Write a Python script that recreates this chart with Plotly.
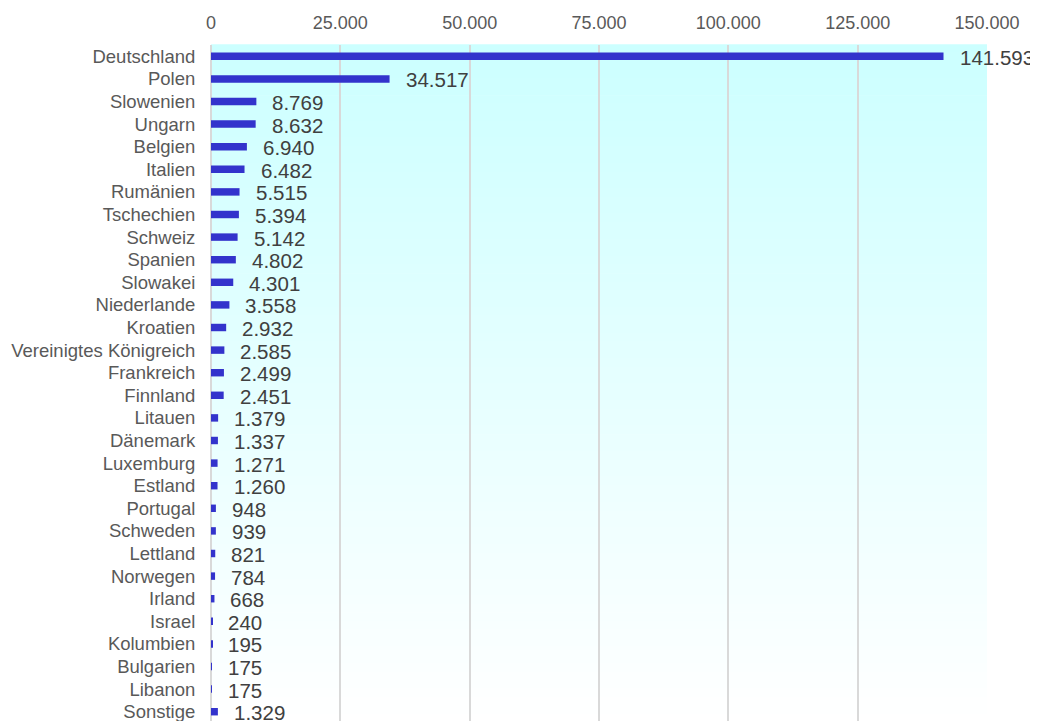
import plotly.graph_objects as go

countries = ["Deutschland", "Polen", "Slowenien", "Ungarn", "Belgien", "Italien", "Rumänien",
             "Tschechien", "Schweiz", "Spanien", "Slowakei", "Niederlande", "Kroatien",
             "Vereinigtes Königreich", "Frankreich", "Finnland", "Litauen", "Dänemark",
             "Luxemburg", "Estland", "Portugal", "Schweden", "Lettland", "Norwegen", "Irland",
             "Israel", "Kolumbien", "Bulgarien", "Libanon", "Sonstige"]
values = [141593, 34517, 8769, 8632, 6940, 6482, 5515, 5394, 5142, 4802, 4301, 3558, 2932,
          2585, 2499, 2451, 1379, 1337, 1271, 1260, 948, 939, 821, 784, 668, 240, 195, 175,
          175, 1329]
tick_vals = [0, 25000, 50000, 75000, 100000, 125000, 150000]
tick_text = ["0", "25.000", "50.000", "75.000", "100.000", "125.000", "150.000"]


def de_fmt(v):
    return f"{v:,}".replace(",", ".")


fig = go.Figure()
fig.add_trace(go.Bar(
    x=values, y=countries, orientation="h",
    marker=dict(color="#3333cc", line=dict(width=0)),
    hoverinfo="x+y",
))

for c, v in zip(countries, values):
    fig.add_annotation(x=v, y=c, text=de_fmt(v), showarrow=False, xanchor="left",
                       xshift=14, yshift=-1,
                       font=dict(family="Liberation Sans, Arial, sans-serif", size=20.5, color="#404040"))

# vertical gradient background (cyan -> white)
n = 80
shapes = []
for i in range(n):
    t = i / (n - 1)
    r = int(round(204 + (255 - 204) * t))
    shapes.append(dict(type="rect", xref="paper", yref="paper", x0=0, x1=1,
                       y0=1 - (i + 1) / n, y1=1 - i / n + 0.001,
                       fillcolor=f"rgb({r},255,255)", line=dict(width=0), layer="below"))

fig.update_layout(
    width=1038, height=721,
    margin=dict(l=203, r=59, t=37, b=6),
    paper_bgcolor="white",
    plot_bgcolor="rgba(0,0,0,0)",
    shapes=shapes,
    bargap=0.67,
    showlegend=False,
    font=dict(family="Liberation Sans, Arial, sans-serif"),
    xaxis=dict(
        side="top", range=[0, 150000], tickvals=tick_vals, ticktext=tick_text,
        showgrid=True, gridcolor="#d9d9d9", gridwidth=2,
        zeroline=True, zerolinecolor="#d9d9d9", zerolinewidth=2,
        ticks="outside", ticklen=8, tickcolor="rgba(0,0,0,0)",
        tickfont=dict(size=18, color="#595959"), showline=False, fixedrange=True,
        automargin=False,
    ),
    yaxis=dict(
        type="category", categoryorder="array", categoryarray=countries,
        range=[29.5, -0.5],
        ticks="outside", ticklen=11, tickcolor="rgba(0,0,0,0)",
        tickfont=dict(size=18.5, color="#595959"), showgrid=False, showline=False,
        automargin=False,
    ),
)

fig.write_html("out.html")
